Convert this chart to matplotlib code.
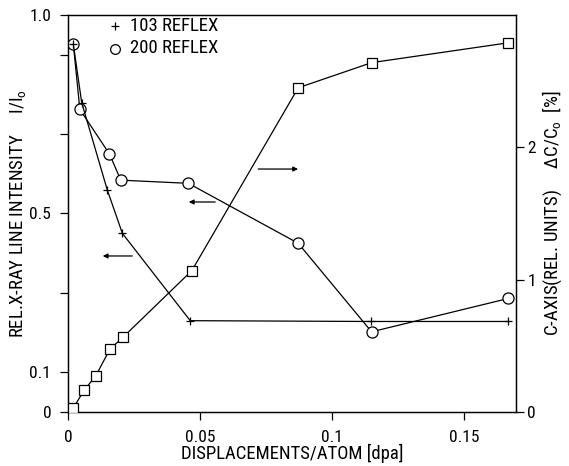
import matplotlib.pyplot as plt
from matplotlib import font_manager

names = {f.name for f in font_manager.fontManager.ttflist}
narrow = 'DejaVu Sans'
for cand in ['Liberation Sans Narrow', 'DejaVu Sans Condensed', 'Roboto Condensed']:
    if cand in names:
        narrow = cand
        break
plt.rcParams['font.family'] = [narrow, 'DejaVu Sans']
plt.rcParams['font.stretch'] = 'condensed'
plt.rcParams['mathtext.fontset'] = 'custom'
plt.rcParams['mathtext.rm'] = narrow
plt.rcParams['mathtext.it'] = narrow

# relative line intensity of the two reflexes (left axis)
dpa_103 = [0.002, 0.0052, 0.0149, 0.0206, 0.0463, 0.1147, 0.1668]
int_103 = [0.927, 0.779, 0.559, 0.450, 0.230, 0.228, 0.228]

dpa_200 = [0.002, 0.0045, 0.0157, 0.020, 0.0456, 0.0872, 0.115, 0.1668]
int_200 = [0.927, 0.762, 0.650, 0.584, 0.576, 0.425, 0.202, 0.286]

# c-axis change (right axis)
dpa_c = [0.002, 0.0061, 0.0105, 0.0159, 0.021, 0.0469, 0.0872, 0.115, 0.1668]
dc_c = [0.03, 0.164, 0.273, 0.475, 0.568, 1.068, 2.45, 2.64, 2.79]

fs = 13.5

fig = plt.figure(figsize=(5.69, 4.66), dpi=100)
ax = fig.add_axes([0.1195, 0.1159, 0.7874, 0.8519])
ax2 = ax.twinx()

ax.plot(dpa_200, int_200, color='black', lw=0.9, marker='o', ms=8, mfc='white', mew=0.9, zorder=3)
ax.plot(dpa_103, int_103, color='black', lw=0.9, marker='+', ms=6, mew=0.9, zorder=4)
ax2.plot(dpa_c, dc_c, color='black', lw=0.9, marker='s', ms=7, mfc='white', mew=0.9, zorder=3)

ax.set_xlim(0, 0.1697)
ax.set_ylim(0, 1.0)
ax2.set_ylim(0, 3.0)

ax.set_xticks([0, 0.05, 0.1, 0.15])
ax.set_xticklabels(['0', '0.05', '0.1', '0.15'])
ax.set_yticks([0, 0.1, 0.3, 0.5, 0.7, 0.9, 1.0])
ax.set_yticklabels(['0', '0.1', '', '0.5', '', '', '1.0'])
ax2.set_yticks([0, 1, 2])
ax2.set_yticklabels(['0', '1', '2'])

for a in (ax, ax2):
    a.tick_params(direction='out', length=6, width=0.9, labelsize=12.5)
    for s in a.spines.values():
        s.set_linewidth(0.9)
ax.tick_params(axis='x', pad=7)
ax.tick_params(axis='y', pad=6)
ax2.tick_params(axis='y', pad=2)

ax.set_xlabel('DISPLACEMENTS/ATOM [dpa]', fontsize=fs)
ax.set_ylabel(r'REL.X-RAY LINE INTENSITY     I/I$_o$', fontsize=fs)
ax2.set_ylabel(r'C-AXIS(REL. UNITS)     $\Delta$C/C$_o$  [%]', fontsize=fs)
ax.xaxis.set_label_coords(0.5, -0.08)
ax.yaxis.set_label_coords(-0.09, 0.5)
ax2.yaxis.set_label_coords(1.054, 0.5)

# legend
ax.plot([0.0178], [0.972], color='black', marker='+', ms=6, mew=0.9, ls='none')
ax.plot([0.0178], [0.915], color='black', marker='o', ms=7, mfc='none', mew=0.9, ls='none')
ax.text(0.0235, 0.972, '103 REFLEX', fontsize=fs, va='center')
ax.text(0.0235, 0.918, '200 REFLEX', fontsize=fs, va='center')

# arrows pointing to the axis each curve belongs to
arrow = dict(arrowstyle='-|>', color='black', lw=0.9, mutation_scale=7)
ax.annotate('', xy=(0.0882, 0.612), xytext=(0.0710, 0.612), arrowprops=arrow)
ax.annotate('', xy=(0.0447, 0.529), xytext=(0.0568, 0.529), arrowprops=arrow)
ax.annotate('', xy=(0.0121, 0.393), xytext=(0.0254, 0.393), arrowprops=arrow)

fig.savefig('out.png', dpi=100)
